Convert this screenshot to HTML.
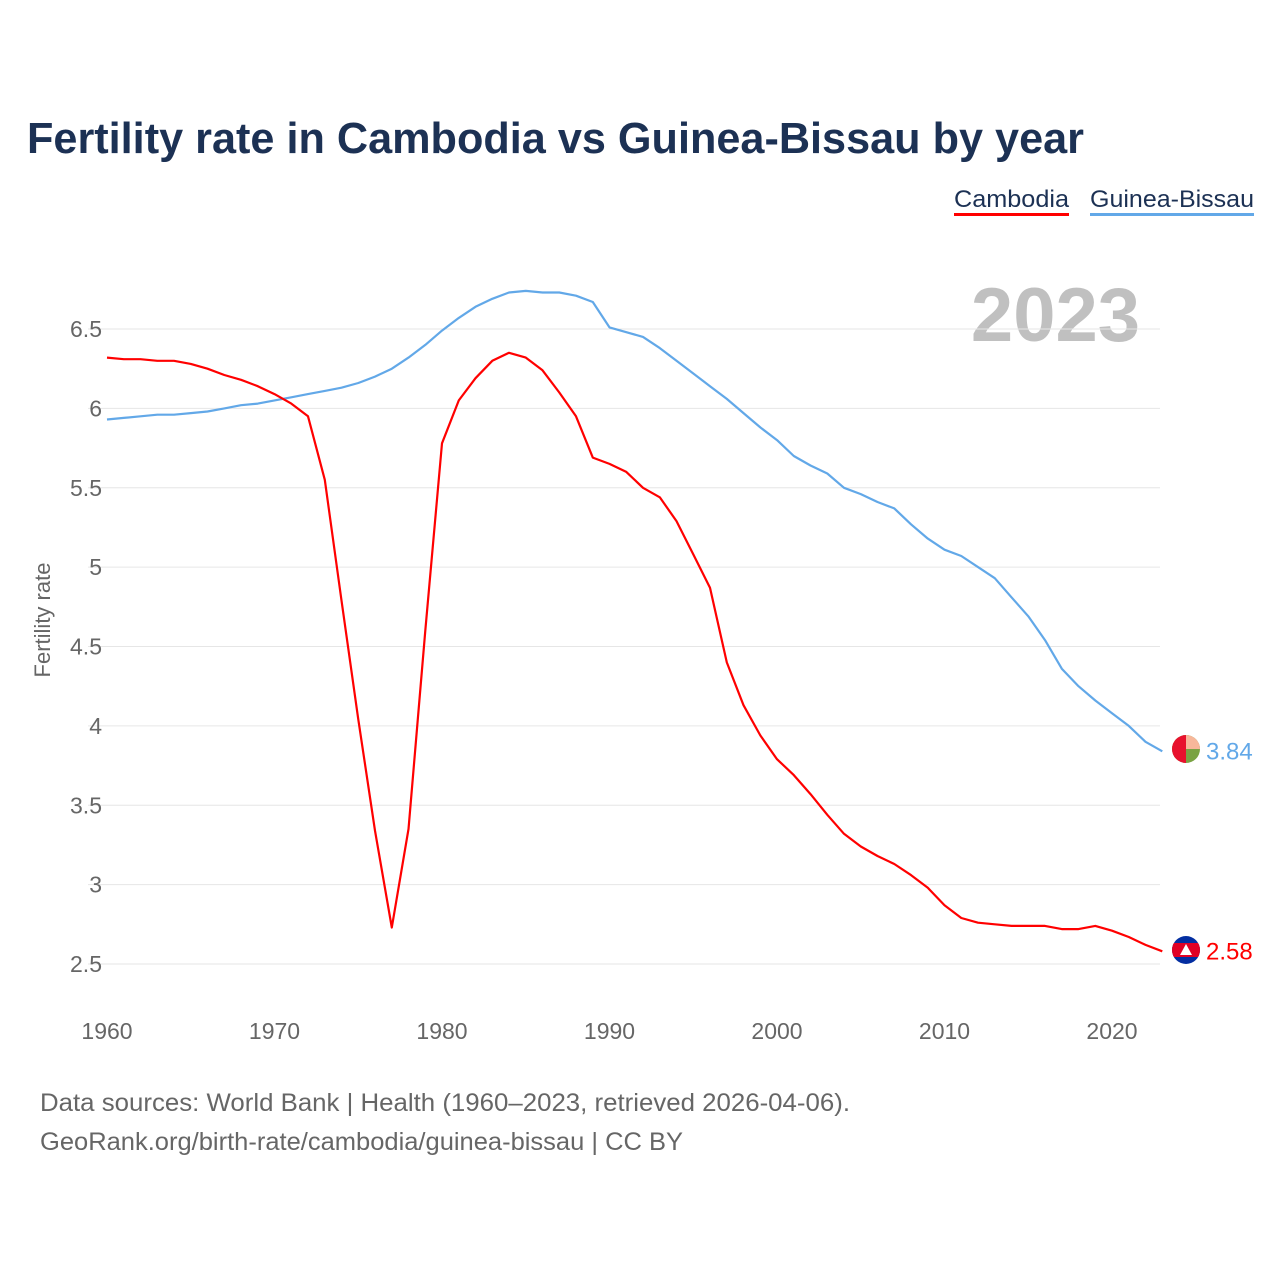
<!DOCTYPE html>
<html><head><meta charset="utf-8">
<style>
html,body{margin:0;padding:0;background:#fff;}
body{width:1280px;height:1280px;overflow:hidden;font-family:"Liberation Sans",sans-serif;}
</style></head>
<body>
<svg id="chart" width="1280" height="1280" xmlns="http://www.w3.org/2000/svg" style="font-family:'Liberation Sans',sans-serif">
<text x="27" y="153" font-size="44" font-weight="bold" fill="#1c3154" textLength="1057" lengthAdjust="spacingAndGlyphs">Fertility rate in Cambodia vs Guinea-Bissau by year</text>
<g>
<text x="954" y="207" font-size="24" fill="#1c3154" textLength="115" lengthAdjust="spacingAndGlyphs">Cambodia</text>
<rect x="954" y="213" width="115" height="3" fill="#ff0000"/></g>
<g>
<text x="1090" y="207" font-size="24" fill="#1c3154" textLength="164" lengthAdjust="spacingAndGlyphs">Guinea-Bissau</text>
<rect x="1090" y="213" width="164" height="3" fill="#62a8e8"/></g>
<text x="1140" y="341" font-size="76" font-weight="bold" fill="#c0c0c0" text-anchor="end">2023</text>
<text transform="translate(50,620) rotate(-90)" font-size="22" fill="#666" text-anchor="middle">Fertility rate</text>
<g id="grid"></g><g id="series"></g>
<g>
<circle cx="1186" cy="749" r="14" fill="#7aa343"/>
<path d="M1186 735 A14 14 0 0 1 1200 749 L1186 749Z" fill="#f7b79a"/>
<path d="M1186 735 A14 14 0 0 0 1172 749 A14 14 0 0 0 1186 763Z" fill="#e8112d"/>
</g>
<g>
<clipPath id="cc"><circle cx="1186" cy="950" r="14"/></clipPath>
<g clip-path="url(#cc)">
<rect x="1172" y="936" width="28" height="28" fill="#032ea1"/>
<rect x="1172" y="943" width="28" height="14" fill="#e00025"/>
<path d="M1180 955 L1186 944 L1192 955Z" fill="#fff"/></g>
</g>
<text x="40" y="1111" font-size="25" fill="#666" textLength="810" lengthAdjust="spacingAndGlyphs">Data sources: World Bank | Health (1960–2023, retrieved 2026-04-06).</text>
<text x="40" y="1150" font-size="25" fill="#666" textLength="643" lengthAdjust="spacingAndGlyphs">GeoRank.org/birth-rate/cambodia/guinea-bissau | CC BY</text>
</svg>
<script>
const years=[];for(let y=1960;y<=2023;y++)years.push(y);
const cambodia=[6.32,6.31,6.31,6.30,6.30,6.28,6.25,6.21,6.18,6.14,6.09,6.03,5.95,5.55,4.79,4.04,3.34,2.73,3.35,4.6,5.78,6.05,6.19,6.30,6.35,6.32,6.24,6.10,5.95,5.69,5.65,5.60,5.50,5.44,5.29,5.08,4.87,4.40,4.13,3.94,3.79,3.69,3.57,3.44,3.32,3.24,3.18,3.13,3.06,2.98,2.87,2.79,2.76,2.75,2.74,2.74,2.74,2.72,2.72,2.74,2.71,2.67,2.62,2.58];
const guineaBissau=[5.93,5.94,5.95,5.96,5.96,5.97,5.98,6.00,6.02,6.03,6.05,6.07,6.09,6.11,6.13,6.16,6.20,6.25,6.32,6.40,6.49,6.57,6.64,6.69,6.73,6.74,6.73,6.73,6.71,6.67,6.51,6.48,6.45,6.38,6.30,6.22,6.14,6.06,5.97,5.88,5.80,5.70,5.64,5.59,5.50,5.46,5.41,5.37,5.27,5.18,5.11,5.07,5.00,4.93,4.81,4.69,4.54,4.36,4.25,4.16,4.08,4.00,3.90,3.84];
const yTicks=[2.5,3,3.5,4,4.5,5,5.5,6,6.5];
const yTickLabels=["2.5","3","3.5","4","4.5","5","5.5","6","6.5"];
const xTicks=[1960,1970,1980,1990,2000,2010,2020];
const NS="http://www.w3.org/2000/svg";
const X=y=>107+(y-1960)*16.75;
const Y=v=>964-(v-2.5)*158.75;
const grid=document.getElementById('grid'),ser=document.getElementById('series'),svg=document.getElementById('chart');
function mk(t,a,p){const e=document.createElementNS(NS,t);for(const k in a)e.setAttribute(k,a[k]);p.appendChild(e);return e;}
yTicks.forEach((v,i)=>{
 const l=mk('line',{x1:88,x2:1160,y1:Y(v),y2:Y(v),stroke:'#e6e6e6','stroke-width':1},grid);
 
 
 const t=mk('text',{x:102,y:Y(v)+8,'font-size':23,fill:'#666','text-anchor':'end'},grid);
 t.textContent=yTickLabels[i];
 
 
});
xTicks.forEach(v=>{
 const t=mk('text',{x:X(v),y:1039,'font-size':23,fill:'#666','text-anchor':'middle'},grid);
 t.textContent=String(v);
 
 
});
function line(vals,col,name){
 const p=mk('path',{d:vals.map((v,i)=>(i?'L':'M')+X(years[i]).toFixed(1)+' '+Y(v).toFixed(1)).join(''),fill:'none',stroke:col,'stroke-width':2.2,'stroke-linejoin':'round'},ser);
 
 
}
line(guineaBissau,'#62a8e8','guinea-bissau-line');
line(cambodia,'#ff0000','cambodia-line');
const last=years.length-1;
const lg=mk('text',{x:1206,y:Y(guineaBissau[last])+8,'font-size':24,fill:'#62a8e8'},svg);
lg.textContent=guineaBissau[last].toFixed(2);


const lc=mk('text',{x:1206,y:Y(cambodia[last])+8,'font-size':24,fill:'#ff0000'},svg);
lc.textContent=cambodia[last].toFixed(2);


</script>
</body></html>
